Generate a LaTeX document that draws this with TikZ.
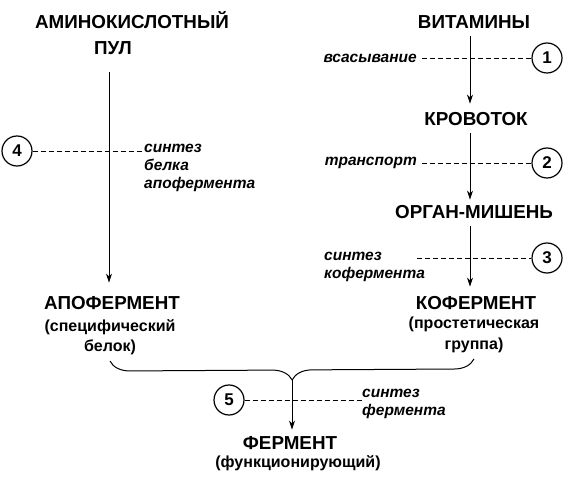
\documentclass[tikz,border=0pt]{standalone}
\usepackage{fontspec}
\setmainfont{Liberation Sans}
\usetikzlibrary{arrows.meta,positioning,decorations.pathreplacing,calc}

\begin{document}
\begin{tikzpicture}[x=1pt, y=-1pt,
        head/.style={
            font=\bfseries\fontsize{18.8}{22}\selectfont,
            inner sep=0pt,
            text height=13.5pt,
            text depth=0pt
        },
        sub/.style={
            font=\bfseries\fontsize{16}{20.5}\selectfont,
            inner sep=0pt,
            align=center
        },
        proc/.style={
            font=\bfseries\itshape\fontsize{15.5}{18}\selectfont,
            inner sep=0pt,
            align=left
        },
        num/.style={
            circle,
            draw,
            line width=1.2pt,
            minimum size=30pt,
            inner sep=0pt,
            font=\bfseries\fontsize{17}{20}\selectfont
        },
        arrow/.style={-{Stealth[length=9pt,width=6pt]}, line width=0.9pt},
        dashline/.style={dash pattern=on 5pt off 3pt, line width=0.8pt}
    ]
    \useasboundingbox (0,0) rectangle (570,486);

    % Левая ветвь
    \node[head] (amino) at (132,22) {АМИНОКИСЛОТНЫЙ};
    \node[head] (pul) at (113,48) {ПУЛ};
    \node[head] (apo) at (112,303) {АПОФЕРМЕНТ};
    \node[sub] (apoSub) at (110,337) {(специфический\\белок)};

    % Правая ветвь
    \node[head] (vit) at (474,22) {ВИТАМИНЫ};
    \node[head] (krov) at (476,119) {КРОВОТОК};
    \node[head] (organ) at (474,212) {ОРГАН-МИШЕНЬ};
    \node[head] (kof) at (476,303) {КОФЕРМЕНТ};
    \node[sub] (kofSub) at (474,335) {(простетическая\\группа)};

    % Фермент
    \node[head] (ferm) at (290,443) {ФЕРМЕНТ};
    \node[sub] (fermSub) at (298,463) {(функционирующий)};

    % Стрелки
    \draw[arrow, shorten <=17.5pt, shorten >=13.5pt] ([xshift=-4pt]pul.south) -- ([xshift=-3pt]apo.north);
    \draw[arrow, shorten <=7.5pt, shorten >=8.5pt] ([xshift=-4pt]vit.south) -- ([xshift=-6pt]krov.north);
    \draw[arrow, shorten <=7.5pt, shorten >=5.5pt] ([xshift=-6pt]krov.south) -- ([xshift=-4pt]organ.north);
    \draw[arrow, shorten <=7.5pt, shorten >=9.5pt] ([xshift=-4pt]organ.south) -- ([xshift=-6pt]kof.north);

    % Скобка
    \draw[decorate, decoration={brace, amplitude=20pt}, line width=1pt]
        ([yshift=-6pt]kofSub.south) -- ([yshift=-6pt]apoSub.south);
    \coordinate (join) at ($($(apoSub.south)!.5!(kofSub.south)$)+(0,26)$);
    \draw[arrow, shorten >=6.5pt] (join) -- (join |- ferm.north);

    % Этапы
    \node[num] (n1) at (547,58) {1};
    \node[num] (n2) at (547,163) {2};
    \node[num] (n3) at (547,258) {3};
    \node[num] (n4) at (17,151) {4};
    \node[num] (n5) at (229,400) {5};

    \node[proc, anchor=east] (absorb) at (417,58) {всасывание};
    \node[proc, anchor=east] (transp) at (417,163) {транспорт};
    \node[proc, anchor=west] (syn3) at (324,267) {синтез\\кофермента};
    \node[proc, anchor=west] (syn4) at (144,168) {синтез\\белка\\апофермента};
    \node[proc, anchor=west] (syn5) at (362,404) {синтез\\фермента};

    \draw[dashline] ([xshift=5pt]absorb.east) -- (n1);
    \draw[dashline] ([xshift=5pt]transp.east) -- (n2);
    \draw[dashline] ($(syn3.east |- n3)+(-8,0)$) -- (n3);
    \draw[dashline] (n4) -- (n4 -| syn4.west);
    \draw[dashline] (n5) -- (n5 -| syn5.west);

\end{tikzpicture}
\end{document}
